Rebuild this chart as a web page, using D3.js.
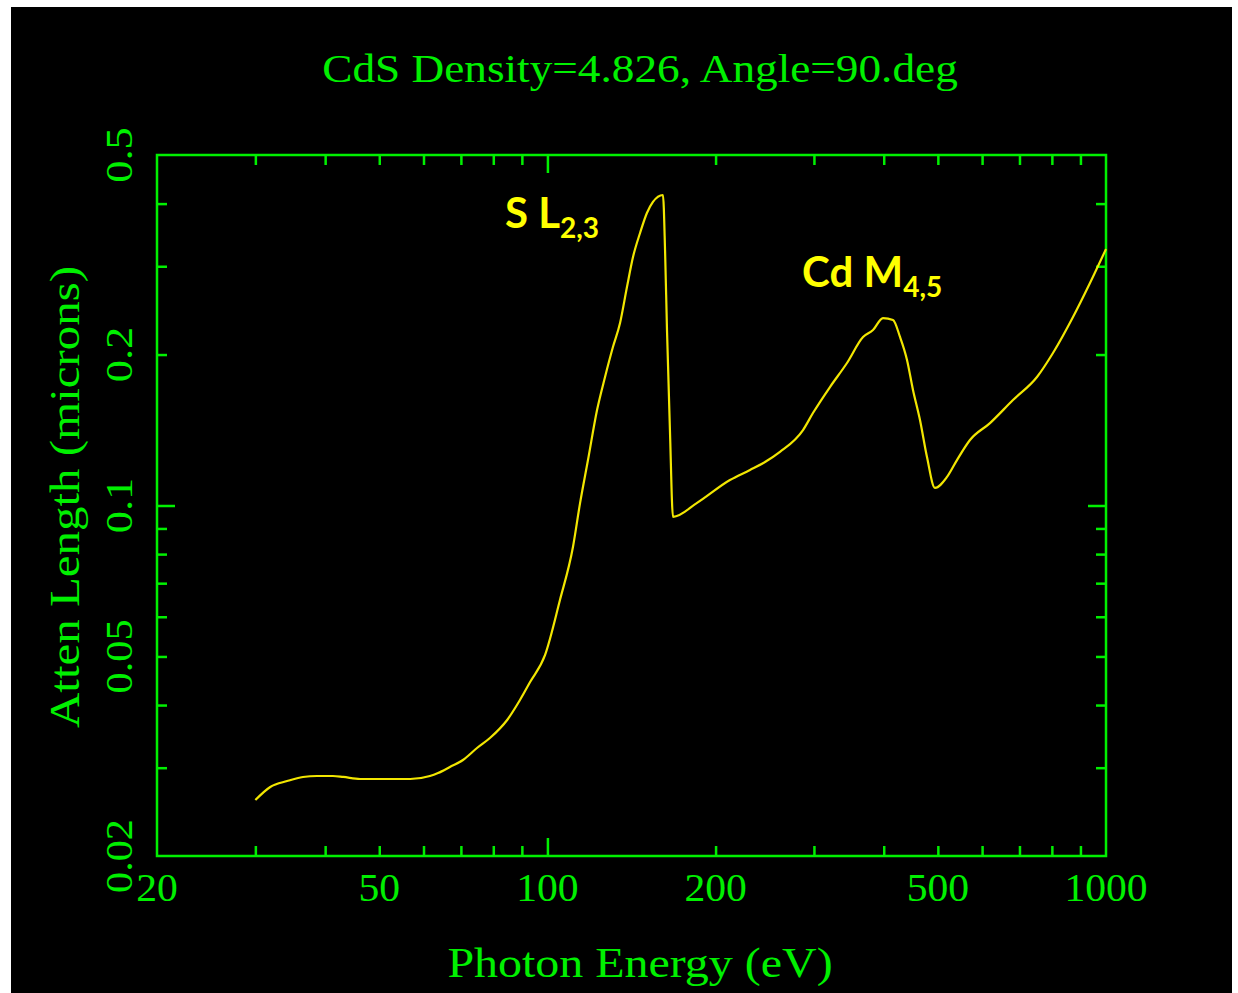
<!DOCTYPE html>
<html>
<head>
<meta charset="utf-8">
<script src="https://cdn.jsdelivr.net/npm/d3@7"></script>
<style>
  html, body { margin: 0; padding: 0; background: #ffffff; }
  svg { display: block; }
</style>
</head>
<body>
<svg id="chart" width="1238" height="993"></svg>
<script>
// ---- data ----
const energy = [30.0, 31.9, 34.2, 36.5, 38.7, 41.3, 43.1, 46.2, 51.6, 56.8, 61.6, 63.7, 66.9, 70.6, 74.8, 78.9, 84.7, 89.3, 93.1, 99.0, 105.3, 111.1, 114.4, 118.2, 122.7, 126.8, 131.0, 134.9, 138.8, 142.3, 146.5, 150.7, 154.5, 161.0, 162.4, 163.7, 165.7, 167.8, 185.3, 212.2, 230.5, 245.2, 260.8, 286.8, 298.8, 320.5, 343.8, 367.3, 382.7, 398.8, 415.6, 427.8, 440.3, 451.3, 464.5, 478.1, 494.1, 519.2, 541.0, 570.8, 619.9, 681.5, 752.4, 803.7, 872.8, 936.1, 1000];
const atten = [0.02586, 0.02746, 0.02822, 0.02875, 0.02888, 0.02888, 0.02875, 0.02848, 0.02848, 0.02848, 0.02888, 0.02928, 0.03010, 0.03108, 0.03284, 0.03438, 0.03735, 0.04094, 0.04446, 0.0503, 0.0648, 0.08265, 0.1011, 0.1232, 0.1550, 0.1804, 0.2070, 0.2312, 0.2727, 0.3130, 0.3495, 0.3831, 0.4030, 0.4161, 0.323, 0.224, 0.1414, 0.0949, 0.1012, 0.1124, 0.1177, 0.1221, 0.1279, 0.1414, 0.1529, 0.1723, 0.1924, 0.2168, 0.2239, 0.2365, 0.2344, 0.2168, 0.1951, 0.1700, 0.1481, 0.1249, 0.1084, 0.1140, 0.1232, 0.1351, 0.1460, 0.1623, 0.1804, 0.2014, 0.2376, 0.2778, 0.3247];

const xDomain = [20, 1000];
const yDomain = [0.02, 0.5];
const xTickLabels = [20, 50, 100, 200, 500, 1000];
const yTickLabels = [0.02, 0.05, 0.1, 0.2, 0.5];
const xMinorTicks = [30, 40, 50, 60, 70, 80, 90, 200, 300, 400, 500, 600, 700, 800, 900];
const xMajorTicks = [100];
const yMinorTicks = [0.03, 0.04, 0.05, 0.06, 0.07, 0.08, 0.09, 0.2, 0.3, 0.4];
const yMajorTicks = [0.1];

const titleText = "CdS Density=4.826, Angle=90.deg";
const xTitle = "Photon Energy (eV)";
const yTitle = "Atten Length (microns)";

// ---- layout ----
const GREEN = "#00f000";
const YELLOW = "#f2e600";
const LABEL_YELLOW = "#ffff00";
const pL = 157, pR = 1106, pT = 155, pB = 856;
const minorLen = 10, majorLen = 18;
const serifFont = "'Liberation Serif', 'DejaVu Serif', serif";

const svg = d3.select("#chart");

// black panel
svg.append("rect").attr("x", 11).attr("y", 7).attr("width", 1221).attr("height", 986).attr("fill", "#000");

const x = d3.scaleLog().domain(xDomain).range([pL, pR]);
const y = d3.scaleLog().domain(yDomain).range([pB, pT]);

// ticks on all four sides, pointing inward
const groups = [];
[[xMinorTicks, minorLen], [xMajorTicks, majorLen]].forEach(([vals, len]) => {
  groups.push(svg.append("g").attr("transform", `translate(0,${pB})`)
    .call(d3.axisBottom(x).tickValues(vals).tickSize(-len).tickFormat("")));
  groups.push(svg.append("g").attr("transform", `translate(0,${pT})`)
    .call(d3.axisTop(x).tickValues(vals).tickSize(-len).tickFormat("")));
});
[[yMinorTicks, minorLen], [yMajorTicks, majorLen]].forEach(([vals, len]) => {
  groups.push(svg.append("g").attr("transform", `translate(${pL},0)`)
    .call(d3.axisLeft(y).tickValues(vals).tickSize(-len).tickFormat("")));
  groups.push(svg.append("g").attr("transform", `translate(${pR},0)`)
    .call(d3.axisRight(y).tickValues(vals).tickSize(-len).tickFormat("")));
});
groups.forEach(g => {
  g.select(".domain").remove();
  g.selectAll("line").attr("stroke", GREEN).attr("stroke-width", 2.5);
});

// frame
svg.append("rect").attr("x", pL).attr("y", pT)
  .attr("width", pR - pL).attr("height", pB - pT)
  .attr("fill", "none").attr("stroke", GREEN).attr("stroke-width", 2.5);

// curve
const pts = energy.map((e, i) => [e, atten[i]]);
const line = d3.line().x(d => x(d[0])).y(d => y(d[1])).curve(d3.curveMonotoneX);
svg.append("path").datum(pts).attr("d", line)
  .attr("fill", "none").attr("stroke", YELLOW).attr("stroke-width", 2.2)
  .attr("stroke-linejoin", "round");

// green serif text, forced to a fixed character pitch like the original plot font
function greenText(sel, size, charW) {
  sel.attr("text-anchor", "middle")
    .attr("font-family", serifFont).attr("font-size", size)
    .attr("fill", GREEN)
    .attr("lengthAdjust", "spacingAndGlyphs")
    .attr("textLength", function() { return this.textContent.length * charW; });
  return sel;
}

// title
greenText(svg.append("text").attr("transform", "translate(640,82) scale(1,1.06)").text(titleText), 38, 20.5);

// x tick labels
greenText(svg.append("g").selectAll("text").data(xTickLabels).join("text")
  .attr("transform", d => `translate(${x(d)},901)`)
  .text(d => String(d)), 41, 20.8);

// y tick labels (rotated)
greenText(svg.append("g").selectAll("text").data(yTickLabels).join("text")
  .attr("transform", d => `translate(132,${y(d)}) rotate(-90)`)
  .text(d => String(d)), 38, 18.5);

// axis titles
greenText(svg.append("text").attr("transform", "translate(640,977)").text(xTitle), 42, 21.4);
greenText(svg.append("text").attr("transform", "translate(79,497) rotate(-90)").text(yTitle), 42, 21);

// annotations
function annot(main, sub, tx, ty) {
  const t = svg.append("text").attr("x", tx).attr("y", ty)
    .attr("font-family", "Lato, 'Open Sans', sans-serif").attr("font-weight", "bold")
    .attr("font-size", 42).attr("fill", LABEL_YELLOW);
  t.append("tspan").text(main);
  t.append("tspan").attr("font-size", 28).attr("dy", 10).text(sub);
}
annot("S L", "2,3", 505, 228);
annot("Cd M", "4,5", 802, 287);
</script>
</body>
</html>
